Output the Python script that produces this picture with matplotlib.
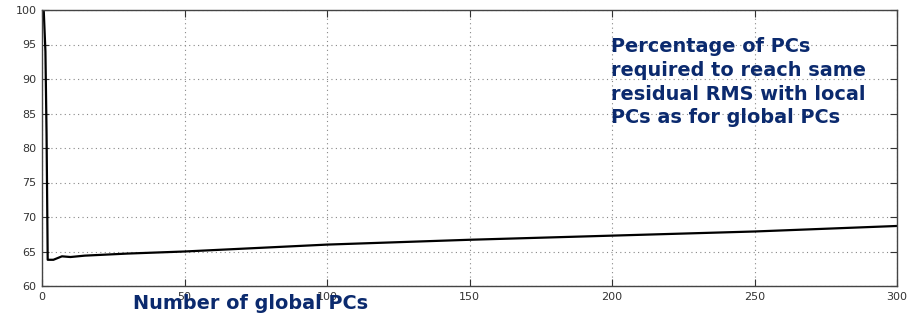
import matplotlib.pyplot as plt

# 데이터
n_global = [0, 0.6, 1.2, 1.6, 2.0, 4, 7, 10, 15, 20, 30, 50, 100, 150, 200, 250, 300]
pct_local = [100, 100, 94, 82, 63.8, 63.8, 64.3, 64.2, 64.4, 64.5, 64.7, 65.0, 66.0, 66.7, 67.3, 67.9, 68.7]
xticks = [0, 50, 100, 150, 200, 250, 300]
yticks = [60, 65, 70, 75, 80, 85, 90, 95, 100]

navy = '#0b2a6e'

fig = plt.figure(figsize=(9.13, 3.14), dpi=100)
ax = fig.add_axes([42 / 913, 1 - 286 / 314, 855 / 913, 276 / 314])

ax.plot(n_global, pct_local, color='black', lw=1.6)

ax.set_xlim(0, 300)
ax.set_ylim(60, 100)
ax.set_xticks(xticks)
ax.set_yticks(yticks)
ax.grid(True, linestyle=(0, (1, 3)), color='#888888', lw=0.8)
ax.tick_params(direction='in', length=5, top=True, right=True, labelsize=8,
               colors='#333333', pad=4)
for s in ax.spines.values():
    s.set_color('#444444')
    s.set_linewidth(1.0)

# 텍스트
fig.text(611 / 913, 1 - 37 / 314,
         'Percentage of PCs\nrequired to reach same\nresidual RMS with local\nPCs as for global PCs',
         color=navy, fontsize=13.9, fontweight='bold', va='top', ha='left',
         linespacing=1.32)
fig.text(133 / 913, 1 - 313 / 314, 'Number of global PCs', color=navy,
         fontsize=13.9, fontweight='bold', va='bottom', ha='left')

fig.savefig('out.png', dpi=100)
